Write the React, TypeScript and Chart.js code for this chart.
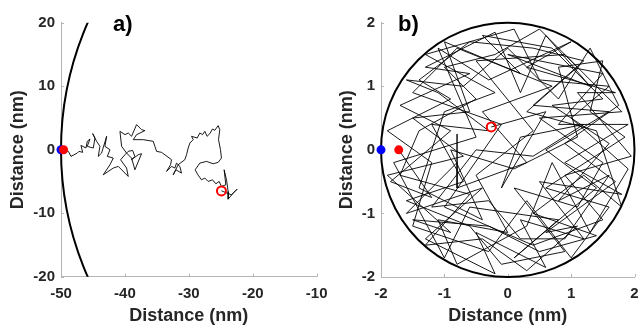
import React, { useEffect, useRef } from "react";
import { Chart, registerables } from "chart.js";
Chart.register(...registerables);

const FONT = "'Liberation Sans', Arial, Helvetica, sans-serif";
const TEXT = "#262626";
const AXIS = "#b4b4b4";

// ---------- Panel a ----------
const aXTicks = [-50, -40, -30, -20, -10];
const aYTicks = [-20, -10, 0, 10, 20];
const aRadius = 50;
const aWall = [{ x: -50, y: 0 }];
const aStart = [{ x: -49.6, y: 0 }];
const aEnd = [{ x: -24.9, y: -6.5 }];
const aWalkX = [
  -49.6, -48.85, -48.44, -47.45, -47.19, -46.61, -46.88, -46.09, -45.89, -45.47,
  -45.89, -44.95, -44.69, -45.05, -44.43, -43.91, -44.17, -43.65, -42.86, -43.13,
  -42.34, -42.76, -41.82, -42.34, -43.39, -41.82, -41.04, -39.48, -39.74, -40.68,
  -40.0, -39.48, -38.8, -38.44, -38.96, -37.92, -37.4, -38.44, -38.96, -39.74,
  -40.52, -40.78, -40.0, -39.48, -38.96, -38.18, -37.4, -36.88, -38.18, -38.7,
  -37.14, -35.57, -35.31, -35.05, -34.27, -33.91, -32.71, -32.86, -33.49, -32.71,
  -32.19, -31.93, -31.41, -31.15, -32.03, -32.45, -31.67, -30.63, -30.36, -30.1,
  -29.84, -29.32, -29.58, -28.7, -28.28, -27.86, -27.5, -27.14, -26.72, -26.3,
  -25.94, -25.42, -25.16, -25.36, -25.05, -24.9, -25.42, -26.2, -27.24, -28.28,
  -29.01, -28.59, -28.02, -27.5, -26.98, -26.3, -25.78, -25.26, -24.9, -24.22,
  -24.48, -24.11, -23.85, -23.85, -23.07, -22.45, -23.33, -24.64, -24.9,
];
const aWalkY = [
  0, -0.26, -1.05, -0.53, -0.26, -0.42, 0.68, 0.26, 1.32, 1.68,
  0.53, 0.26, 1.84, 2.53, 1.32, 0.53, -1.05, -0.53, 2.11, 0.53,
  0, -1.05, -1.32, -2.37, -3.95, -2.89, -2.63, -4.21, -2.89, -1.58,
  -0.79, -0.26, -0.11, -1.05, -1.58, -0.79, -0.63, -3.16, -1.32, -0.53,
  0.53, 2.89, 2.37, 2.63, 2.11, 3.95, 3.16, 3.0, 2.37, 1.58,
  1.58, 1.32, 0.53, -0.26, -0.42, -0.68, -1.58, -2.37, -3.42, -2.63,
  -2.89, -2.11, -2.63, -3.68, -3.16, -3.95, -2.37, -1.58, -0.79, 0.26,
  1.05, 1.58, 2.11, 1.84, 2.63, 2.37, 2.89, 2.11, 2.53, 3.26,
  3.05, 3.79, 3.16, 1.58, 0, -1.32, -2.0, -2.21, -1.84, -2.11,
  -3.16, -3.95, -4.74, -4.47, -5.0, -4.74, -5.37, -5.0, -5.79, -5.53,
  -3.16, -4.74, -6.58, -7.79, -6.84, -6.21, -7.11, -6.58, -6.47,
];

// ---------- Panel b ----------
const bXTicks = [-2, -1, 0, 1, 2];
const bYTicks = [-2, -1, 0, 1, 2];
const bRadius = 2;
const bWall = [{ x: -2, y: 0 }];
const bStart = [{ x: -1.72, y: 0 }];
const bEnd = [{ x: -0.26, y: 0.36 }];
const bWalkX = [
  -1.72, -1.2, -1.85, -0.9, -1.7, -0.6, -1.3, -0.2, 0.2, 0.6,
  1.3, 0.0, 1.5, 0.8, 1.9, 0.9, 1.8, 0.5, 1.2, 0.2,
  0.6, -0.5, -0.2, -1.3, -0.4, -1.6, -0.8, -0.8, -0.8, 0.3,
  -0.4, 0.7, -0.8, -1.5, -0.1, -1.0, 0.4, 1.5, 0.9, 1.95,
  1.1, 1.7, 0.3, 1.0, -0.3, -1.1, -0.5, -1.8, -1.0, -0.6,
  0.8, 0.1, 1.4, 0.6, 1.6, 0.4, 1.2, 0.4, -0.6, -1.4,
  -0.9, -1.9, -1.2, -1.5, -0.3, 0.3, 1.0, 1.6, 0.6, 1.85,
  1.3, 1.5, 0.8, 1.1, 0.1, -0.9, -0.4, -1.4, -1.0, -0.2,
  -1.3, 0.1, 0.5, 1.6, 1.0, 1.9, 1.3, 0.7, 0.3, -0.8,
  -1.1, 0.0, -0.5, 0.4, -0.5, 0.9, 1.8, 0.5, 1.5, 1.1,
  0.1, 0.9, -0.1, -0.6, -1.6, -0.7, -1.2, -0.3, -1.1, -1.6,
  -0.7, 0.0, 0.8, 1.3, 1.75, 0.9, 1.7, 0.6, 1.1, 0.3,
  -0.4, -1.3, -0.6, -1.7, -1.4, -0.5, -1.0, -0.2, 0.5, 1.1,
  0.3, 1.4, 1.8, 1.2, 0.4, 1.4, 0.5, -0.3, -1.5, -0.9,
  -1.9, -0.7, -1.5, -0.6, -1.0, 0.2, -0.4, 0.7, 1.5, 0.7,
  1.6, 0.8, 1.6, 0.9, 0.2, -0.3, -1.2, -0.5, 0.4, 1.2,
  0.2, -0.1, 0.6, -0.26,
];
const bWalkY = [
  0, -0.75, -0.5, 0.3, 0.7, 1.2, 1.3, 1.85, 0.9, 1.8,
  1.0, 1.5, 1.2, 0.4, 0.4, -0.2, -0.7, -0.5, -1.4, -1.1,
  -1.85, -1.3, -1.95, -1.4, -0.6, -1.0, -0.2, 0.25, -0.6, -0.2,
  0.6, 1.0, 1.6, 0.9, 0.4, -0.9, -1.5, -1.1, -0.4, -0.1,
  0.9, 0.9, 1.3, 1.7, 1.1, 1.6, 0.2, -0.2, -1.7, -0.9,
  -1.1, -1.7, -0.6, 0.0, 0.6, 0.7, 1.4, 1.6, 1.7, 1.1,
  0.8, 0.3, -0.2, -1.2, -1.6, -0.8, -1.7, -0.9, -0.6, 0.2,
  0.6, 1.4, 1.3, 0.2, -0.3, 0.0, -1.1, -0.6, 0.6, 0.9,
  1.5, 1.9, 1.1, 1.0, 0.5, -0.3, -1.3, -0.2, -1.2, -1.8,
  -1.1, -1.3, -0.4, 0.3, 1.4, 1.5, 0.6, 0.5, -0.2, -0.9,
  -0.6, -1.6, -1.8, -1.2, -0.8, -0.5, 0.4, 0.3, 0.9, 1.1,
  1.0, 1.6, 0.8, 1.6, 0.7, 0.1, -0.5, -1.3, -1.2, -1.9,
  -1.4, -1.5, -0.7, -0.4, 0.3, 0.8, 1.3, 1.5, 1.9, 1.3,
  0.6, 0.3, -0.9, -0.4, -1.0, -1.35, -1.6, -1.2, -1.1, -1.3,
  -0.4, -0.1, 0.5, 0.6, 1.7, 1.2, 1.8, 1.6, 0.8, 0.7,
  0.1, -0.8, -0.4, -1.4, -1.4, -0.8, -0.9, 0.0, -0.1, 0.4,
  0.2, -0.6, 0.6, 0.36,
];

const toPts = (xs: number[], ys: number[]) => xs.map((x, i) => ({ x, y: ys[i] }));

type PanelCfg = {
  xTicks: number[];
  yTicks: number[];
  radius: number;
  clipCircle: boolean;
  walk: { x: number; y: number }[];
  wall: { x: number; y: number }[];
  start: { x: number; y: number }[];
  end: { x: number; y: number }[];
  label: string;
  labelDx: number;
  width: number;
  padRight: number;
  xAxisHeight: number;
  yTitlePad: number;
};

function makePlugin(cfg: PanelCfg) {
  return {
    id: "panelDeco",
    beforeDatasetsDraw(chart: any) {
      const { ctx, chartArea, scales } = chart;
      const xs = scales.x;
      const ys = scales.y;
      ctx.save();
      ctx.strokeStyle = AXIS;
      ctx.lineWidth = 1;
      ctx.beginPath();
      cfg.xTicks.forEach((v) => {
        const px = Math.round(xs.getPixelForValue(v)) + 0.5;
        ctx.moveTo(px, chartArea.bottom);
        ctx.lineTo(px, chartArea.bottom - 3);
      });
      cfg.yTicks.forEach((v) => {
        const py = Math.round(ys.getPixelForValue(v)) + 0.5;
        ctx.moveTo(chartArea.left, py);
        ctx.lineTo(chartArea.left + 3, py);
      });
      ctx.stroke();
      ctx.restore();
      const cx = xs.getPixelForValue(0);
      const cy = ys.getPixelForValue(0);
      const rx = Math.abs(xs.getPixelForValue(cfg.radius) - cx);
      const ry = Math.abs(ys.getPixelForValue(cfg.radius) - cy);
      ctx.save();
      if (cfg.clipCircle) {
        ctx.beginPath();
        ctx.rect(chartArea.left - 5, chartArea.top, chartArea.right - chartArea.left + 5, chartArea.bottom - chartArea.top);
        ctx.clip();
      }
      ctx.beginPath();
      ctx.ellipse(cx, cy, rx, ry, 0, 0, Math.PI * 2);
      ctx.lineWidth = 2;
      ctx.strokeStyle = "#000";
      ctx.stroke();
      ctx.restore();
    },
    afterDraw(chart: any) {
      const { ctx, chartArea } = chart;
      ctx.save();
      ctx.font = `bold 22px ${FONT}`;
      ctx.fillStyle = "#000";
      ctx.textBaseline = "alphabetic";
      ctx.textAlign = "left";
      ctx.fillText(cfg.label, chartArea.left + cfg.labelDx, 31);
      ctx.restore();
    },
  };
}

function Panel({ cfg, left }: { cfg: PanelCfg; left: number }) {
  const ref = useRef<HTMLCanvasElement | null>(null);
  useEffect(() => {
    if (!ref.current) return;
    const tickFont = { family: FONT, size: 15, weight: "bold" as const };
    const titleFont = { family: FONT, size: 18, weight: "bold" as const };
    const chart = new Chart(ref.current, {
      type: "scatter",
      data: {
        datasets: [
          {
            data: cfg.end,
            pointRadius: 4.5,
            pointBorderWidth: 2,
            pointBorderColor: "#ff0000",
            pointBackgroundColor: "rgba(0,0,0,0)",
            showLine: false,
            clip: false as any,
          },
          {
            data: cfg.start,
            pointRadius: 4.5,
            pointBorderWidth: 0,
            pointBackgroundColor: "#ff0000",
            pointBorderColor: "#ff0000",
            showLine: false,
            clip: false as any,
          },
          {
            data: cfg.wall,
            pointRadius: 4.5,
            pointBorderWidth: 0,
            pointBackgroundColor: "#0000ff",
            pointBorderColor: "#0000ff",
            showLine: false,
            clip: false as any,
          },
          {
            data: cfg.walk,
            showLine: true,
            pointRadius: 0,
            borderColor: "#000",
            borderWidth: 0.9,
            tension: 0,
            fill: false,
          },
        ],
      },
      options: {
        responsive: false,
        animation: false,
        devicePixelRatio: 1,
        events: [],
        layout: { padding: { left: 0, right: cfg.padRight, top: 22.7, bottom: 0 } },
        plugins: { legend: { display: false }, tooltip: { enabled: false } },
        scales: {
          x: {
            type: "linear",
            min: cfg.xTicks[0],
            max: cfg.xTicks[cfg.xTicks.length - 1],
            afterBuildTicks: (s: any) => {
              s.ticks = cfg.xTicks.map((v) => ({ value: v }));
            },
            ticks: { color: TEXT, font: tickFont, padding: 8, maxRotation: 0, autoSkip: false },
            grid: { display: true, drawOnChartArea: false, drawTicks: false, color: AXIS },
            border: { display: true, color: AXIS, width: 1 },
            title: { display: true, text: "Distance (nm)", color: TEXT, font: titleFont, padding: { top: 0, bottom: 0 } },
            afterFit: (s: any) => {
              s.height = cfg.xAxisHeight;
              s.paddingLeft = 0;
              s.paddingRight = 0;
            },
          },
          y: {
            type: "linear",
            min: cfg.yTicks[0],
            max: cfg.yTicks[cfg.yTicks.length - 1],
            afterBuildTicks: (s: any) => {
              s.ticks = cfg.yTicks.map((v) => ({ value: v }));
            },
            ticks: { color: TEXT, font: tickFont, padding: 6, autoSkip: false },
            grid: { display: true, drawOnChartArea: false, drawTicks: false, color: AXIS },
            border: { display: true, color: AXIS, width: 1 },
            title: { display: true, text: "Distance (nm)", color: TEXT, font: titleFont, padding: { top: cfg.yTitlePad, bottom: 0 } },
            afterFit: (s: any) => {
              s.width = 61;
              s.paddingTop = 0;
              s.paddingBottom = 0;
            },
          },
        },
      } as any,
      plugins: [makePlugin(cfg)],
    });
    return () => chart.destroy();
  }, []);
  return (
    <canvas
      ref={ref}
      width={cfg.width}
      height={327}
      style={{ position: "absolute", left, top: 0, width: cfg.width, height: 327 }}
    />
  );
}

const panelA: PanelCfg = {
  xTicks: aXTicks,
  yTicks: aYTicks,
  radius: aRadius,
  clipCircle: true,
  walk: toPts(aWalkX, aWalkY),
  wall: aWall,
  start: aStart,
  end: aEnd,
  label: "a)",
  labelDx: 52,
  width: 345,
  padRight: 345 - 316.7,
  xAxisHeight: 50.3,
  yTitlePad: 7.5,
};

const panelB: PanelCfg = {
  xTicks: bXTicks,
  yTicks: bYTicks,
  radius: bRadius,
  clipCircle: false,
  walk: toPts(bWalkX, bWalkY),
  wall: bWall,
  start: bStart,
  end: bEnd,
  label: "b)",
  labelDx: 17,
  width: 321,
  padRight: 6,
  xAxisHeight: 50,
  yTitlePad: 16,
};

export default function App() {
  return (
    <div style={{ position: "fixed", left: 0, top: 0, width: 641, height: 327, background: "#fff" }}>
      <Panel cfg={panelA} left={0} />
      <Panel cfg={panelB} left={320} />
    </div>
  );
}
